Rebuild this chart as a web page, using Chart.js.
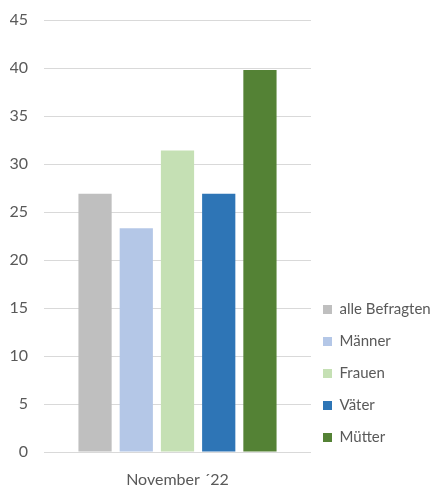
<!DOCTYPE html>
<html>
<head>
<meta charset="utf-8">
<script src="https://cdn.jsdelivr.net/npm/chart.js@4/dist/chart.umd.min.js"></script>
<style>
  html, body { margin: 0; padding: 0; background: #ffffff; }
  #wrap { width: 437px; height: 485px; position: relative; }
</style>
</head>
<body>
<div id="wrap"><canvas id="chart"></canvas></div>
<script>
// Survey values, one bar per group
const categories = ['November ´22'];
const groups = ['alle Befragten', 'Männer', 'Frauen', 'Väter', 'Mütter'];
const values = [26.9, 23.3, 31.4, 26.9, 39.8];
const groupColors = ['#bfbfbf', '#b4c7e7', '#c5e0b4', '#2e75b6', '#548235'];
const yTicks = [0, 5, 10, 15, 20, 25, 30, 35, 40, 45];

const textColor = '#595959';
const fontFamily = 'Lato, "Open Sans", sans-serif';

// nudges the legend block down and to the left after layout
const legendOffset = {
    id: 'legendOffset',
    afterLayout(chart) {
        const lg = chart.legend;
        if (!lg) return;
        lg.top += 10;
        lg.bottom += 10;
        lg.left -= 5;
        lg.right -= 5;
    }
};

function buildChart() {
    const datasets = groups.map((name, i) => ({
        label: name,
        data: [values[i]],
        backgroundColor: groupColors[i],
        borderWidth: 0,
        categoryPercentage: 0.772,
        barPercentage: 0.806
    }));

    new Chart(document.getElementById('chart'), {
        type: 'bar',
        data: {
            labels: categories,
            datasets: datasets
        },
        plugins: [legendOffset],
        options: {
            responsive: true,
            maintainAspectRatio: false,
            animation: false,
            layout: {
                padding: { top: 20, left: 10, right: 0, bottom: 0 }
            },
            plugins: {
                tooltip: { enabled: false },
                legend: {
                    position: 'right',
                    align: 'end',
                    fullSize: false,
                    maxWidth: 126,
                    labels: {
                        color: textColor,
                        font: { family: fontFamily, size: 15 },
                        boxWidth: 9,
                        boxHeight: 9,
                        padding: 17
                    }
                }
            },
            scales: {
                x: {
                    afterFit: (axis) => { axis.height = 33; },
                    grid: { display: false },
                    border: { display: false },
                    ticks: {
                        color: textColor,
                        font: { family: fontFamily, size: 16 },
                        padding: 10
                    }
                },
                y: {
                    min: 0,
                    max: 45,
                    afterFit: (axis) => {
                        axis.width = 34;
                        axis.paddingTop = 10;
                        axis.paddingBottom = 0;
                    },
                    afterBuildTicks: (axis) => {
                        axis.ticks = yTicks.map(v => ({ value: v }));
                    },
                    grid: {
                        color: '#d9d9d9',
                        lineWidth: 1,
                        drawTicks: false
                    },
                    border: { display: false },
                    ticks: {
                        color: textColor,
                        font: { family: fontFamily, size: 16 },
                        padding: 16
                    }
                }
            }
        }
    });
}

// make sure the font is measured correctly before layout
document.fonts.load('16px Lato').then(buildChart, buildChart);
</script>
</body>
</html>
